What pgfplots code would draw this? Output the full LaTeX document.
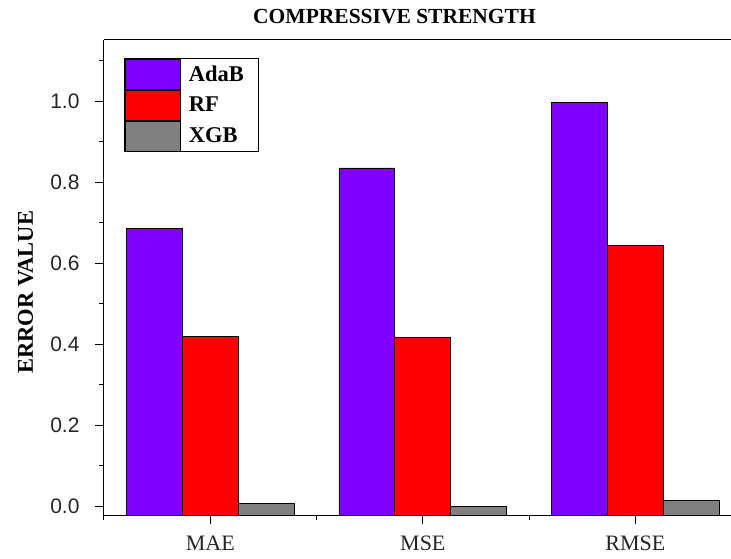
\documentclass[border=0pt]{standalone}
\usepackage{pgfplots}
\pgfplotsset{compat=1.18}
\usepackage{fontspec}
\setmainfont{Liberation Serif}
\newfontfamily\sansf{Liberation Sans}
\definecolor{adab}{RGB}{127,0,255}
\definecolor{rf}{RGB}{255,0,0}
\definecolor{xgb}{RGB}{128,128,128}
\begin{document}
\begin{tikzpicture}
\begin{axis}[
  scale only axis, width=627pt, height=475pt,
  xmin=-0.5, xmax=2.45,
  ymin=-0.022, ymax=1.151,
  y coord trafo/.code={\pgfmathparse{#1+0.022}},
  y coord inv trafo/.code={\pgfmathparse{#1-0.022}},
  axis x line*=bottom, axis y line*=left,
  x axis line style={-}, y axis line style={-},
  axis line style={line width=1pt},
  clip=false,
  ybar=0pt, bar width=0.263,
  xtick={0,1,2}, xticklabels={MAE,MSE,RMSE},
  minor xtick={-0.5,0.5,1.5},
  ytick={0,0.2,0.4,0.6,0.8,1.0},
  yticklabels={0.0,0.2,0.4,0.6,0.8,1.0},
  minor ytick={0.1,0.3,0.5,0.7,0.9,1.1},
  tick align=outside,
  major tick length=9pt, minor tick length=4.5pt,
  tick style={line width=1pt, black},
  xticklabel style={font=\fontsize{22}{22}\selectfont, text=black!85, yshift=-8pt},
  yticklabel style={font=\sansf\fontsize{21}{21}\selectfont, text=black!85, xshift=-12pt},
  title={COMPRESSIVE STRENGTH},
  title style={at={(axis description cs:0.4633,1)}, anchor=base, yshift=10pt, font=\fontsize{21.5}{21.5}\selectfont\bfseries},
  ylabel={ERROR VALUE},
  every axis y label/.style={at={(axis description cs:-0.1252,0.469)}, rotate=90, anchor=center, font=\fontsize{22.5}{22.5}\selectfont\bfseries},
  legend image code/.code={\draw[#1, line width=0.9pt] (0pt,-15pt) rectangle (55pt,15pt);},
  legend style={at={(axis description cs:0.0335,0.96)}, anchor=north west, draw=black, line width=1pt,
    inner sep=0pt, outer sep=0pt, row sep=0pt, column sep=0pt,
    font=\fontsize{22.5}{22.5}\selectfont\bfseries,
    nodes={inner xsep=8pt, inner ysep=0pt, text width=62pt, align=left}},
  legend cell align=left,
]
\addplot[fill=adab, draw=black, line width=0.9pt, bar shift=-0.263] coordinates {(0,0.685) (1,0.835) (2,0.996)};
\addplot[fill=rf, draw=black, line width=0.9pt, bar shift=0] coordinates {(0,0.420) (1,0.417) (2,0.644)};
\addplot[fill=xgb, draw=black, line width=0.9pt, bar shift=0.263] coordinates {(0,0.007) (1,0.0) (2,0.015)};
\legend{AdaB,RF,XGB}
\draw[line width=1pt] (axis description cs:0,1) -- (axis description cs:1,1);
\coordinate (bl) at (axis description cs:0,0);
\end{axis}
\pgfresetboundingbox
\path[use as bounding box] ([xshift=-104pt,yshift=-43pt]bl) rectangle ([xshift=627pt,yshift=515pt]bl);
\end{tikzpicture}
\end{document}
